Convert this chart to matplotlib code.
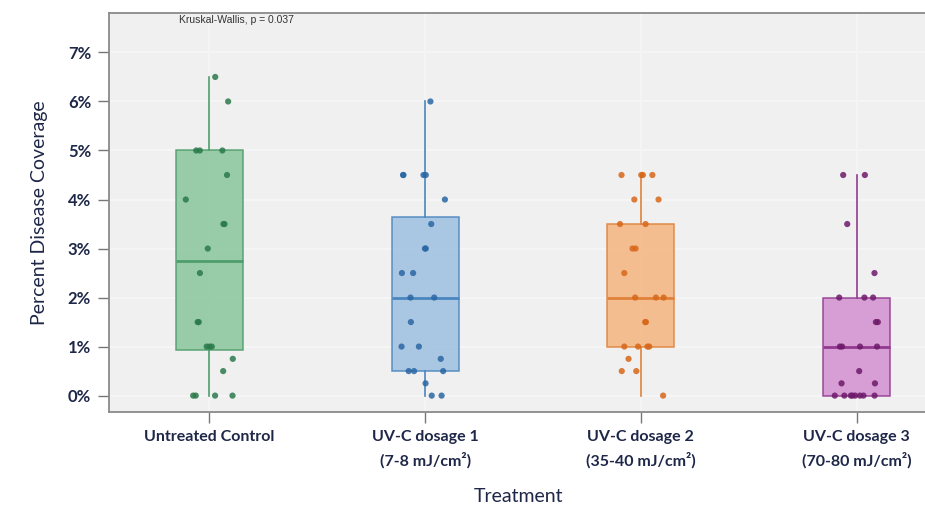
import matplotlib.pyplot as plt
import numpy as np

plt.rcParams['font.family'] = ['Lato', 'DejaVu Sans']

# data (percent disease coverage)
categories = ['Untreated Control', 'UV-C dosage 1\n(7-8 mJ/cm²)',
              'UV-C dosage 2\n(35-40 mJ/cm²)', 'UV-C dosage 3\n(70-80 mJ/cm²)']
control = [6.5, 6.0, 5, 5, 5, 4.5, 4.0, 3.5, 3.5, 3.0, 2.5, 1.5, 1.5,
           1, 1, 1, 0.75, 0.5, 0, 0, 0, 0]
dose1 = [6.0, 4.5, 4.5, 4.5, 4.5, 4.0, 3.5, 3, 3, 2.5, 2.5, 2, 2, 1.5,
         1, 1, 0.75, 0.5, 0.5, 0.5, 0.25, 0, 0]
dose2 = [4.5, 4.5, 4.5, 4.5, 4, 4, 3.5, 3.5, 3, 3, 2.5, 2, 2, 2, 1.5, 1.5,
         1, 1, 1, 1, 0.75, 0.5, 0.5, 0]
dose3 = [4.5, 4.5, 3.5, 2.5, 2, 2, 2, 1.5, 1.5, 1, 1, 1, 1, 0.5, 0.25, 0.25,
         0, 0, 0, 0, 0, 0, 0, 0]
groups = [control, dose1, dose2, dose3]

# box statistics as drawn in the original
q1 = [0.94, 0.5, 1.0, 0.0]
medians = [2.75, 2.0, 2.0, 1.0]
q3 = [5.0, 3.65, 3.5, 2.0]
whis_lo = [0, 0, 0, 0]
whis_hi = [6.5, 6.0, 4.5, 4.5]

fills = ['#8fc9a0', '#a2c3e1', '#f5b886', '#d495d1']
edges = ['#4f9d6c', '#4a86bf', '#e0823a', '#933a90']
dots = ['#2b7a4b', '#2a67a3', '#d7671a', '#6e1a6a']

navy = '#1e2747'

fig = plt.figure(figsize=(9.25, 5.09), dpi=100)
ax = fig.add_axes([0.118, 0.191, 0.884, 0.783])
ax.set_facecolor('#f0f0f0')

pos = np.arange(len(categories))
for y in range(0, 8):
    ax.axhline(y, color='#f5f5f5', lw=1.5, zorder=0)
for x in pos:
    ax.axvline(x, color='#f4f4f4', lw=1.5, zorder=0)

stats = []
for i in range(len(categories)):
    stats.append({'med': medians[i], 'q1': q1[i], 'q3': q3[i],
                  'whislo': whis_lo[i], 'whishi': whis_hi[i], 'fliers': []})

bp = ax.bxp(stats, positions=pos, widths=0.31, patch_artist=True,
            showcaps=False, showfliers=False)
for i in range(len(categories)):
    bp['boxes'][i].set(facecolor=fills[i], edgecolor=edges[i], lw=1.1, alpha=0.9)
    bp['medians'][i].set(color=edges[i], lw=2)
    for w in bp['whiskers'][2 * i:2 * i + 2]:
        w.set(color=edges[i], lw=1.2)

rng = np.random.default_rng(7)
for i, vals in enumerate(groups):
    jitter = rng.uniform(-0.11, 0.11, len(vals))
    ax.scatter(pos[i] + jitter, vals, s=20, color=dots[i], alpha=0.85,
               edgecolors='none', zorder=5)

ax.set_xlim(-0.464, 3.325)
ax.set_ylim(-0.33, 7.8)
ax.set_yticks(range(0, 8))
ax.set_yticklabels([f'{v}%' for v in range(0, 8)])
ax.set_xticks(pos)
ax.set_xticklabels(categories, linespacing=1.65)

for lab in ax.get_xticklabels() + ax.get_yticklabels():
    lab.set_fontweight('bold')
    lab.set_color(navy)
    lab.set_fontsize(11.5)
for lab in ax.get_yticklabels():
    lab.set_fontsize(12)
ax.tick_params(axis='both', length=8, width=1, color='#777777', pad=5)

for s in ax.spines.values():
    s.set_color('#8a8a8a')
    s.set_linewidth(1.3)

ax.set_xlabel('Treatment', fontsize=14, color=navy, labelpad=14)
ax.set_ylabel('Percent Disease Coverage', fontsize=14, color=navy, labelpad=14)

ax.text(0.085, 0.982, 'Kruskal-Wallis, p = 0.037', transform=ax.transAxes,
        fontsize=7.5, color='#333333', ha='left', va='center',
        family='Liberation Sans')

fig.savefig('out.png', dpi=100, facecolor='white')
